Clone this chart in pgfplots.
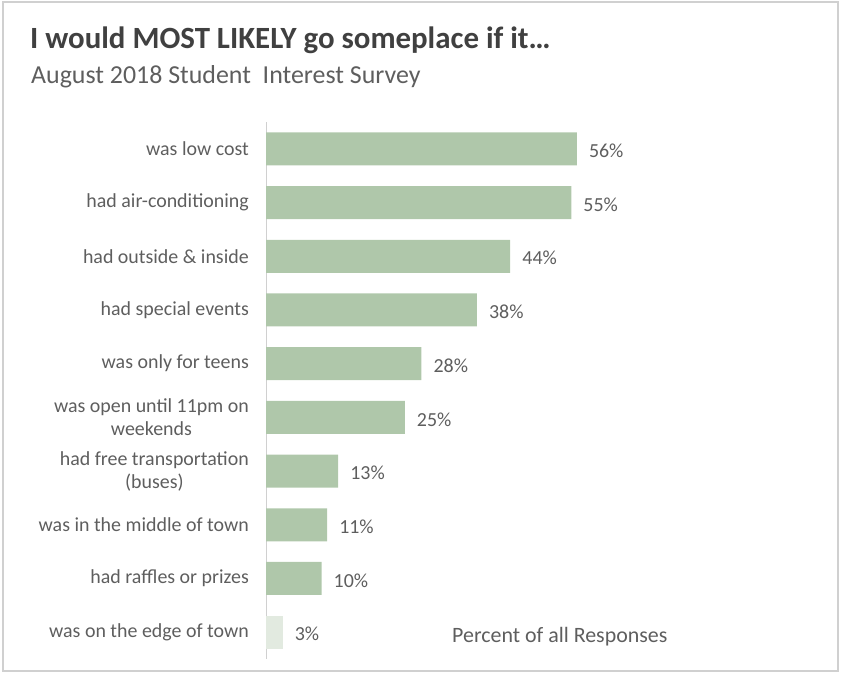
\documentclass[border=0pt]{standalone}
\usepackage{pgfplots}
\pgfplotsset{compat=1.18}
\usepackage{fontspec}
\setmainfont{Carlito}
\definecolor{barg}{HTML}{AFC7AA}
\definecolor{barl}{HTML}{E2EAE0}
\definecolor{txt}{HTML}{5E5E5E}
\definecolor{ttl}{HTML}{404040}
\definecolor{frm}{HTML}{D0D0D0}
\begin{document}
\begin{tikzpicture}
\path[use as bounding box] (0bp,0bp) rectangle (842bp,-673bp);
\draw[color=frm, line width=1.2bp] (3bp,-2bp) rectangle (838bp,-671bp);
\node[anchor=base west, inner sep=0pt, text=ttl, font=\fontsize{31}{36}\selectfont\bfseries] at (30bp,-48bp) {I would MOST LIKELY go someplace if it\ldots};
\node[anchor=base west, inner sep=0pt, text=txt, font=\fontsize{26}{30}\selectfont] at (31bp,-83bp) {August 2018 Student\ \ Interest Survey};
\node[anchor=base west, inner sep=0pt, text=txt, font=\fontsize{22}{26}\selectfont] at (452bp,-642bp) {Percent of all Responses};
\begin{axis}[
  at={(266bp,-122bp)}, anchor=north west,
  scale only axis, width=555bp, height=537bp,
  xmin=0, xmax=100, ymin=-0.5, ymax=9.5, y dir=reverse,
  xbar, bar width=33bp,
  axis x line=none, axis y line*=left,
  y axis line style={draw=frm, line width=1bp, -},
  xtick=\empty,
  ytick={0,...,9},
  yticklabels={was low cost, had air-conditioning, had outside \& inside, had special events, was only for teens, {was open until 11pm on\\weekends}, {had free transportation\\(buses)}, was in the middle of town, had raffles or prizes, was on the edge of town},
  major tick length=0pt,
  yticklabel style={font=\fontsize{20}{23}\selectfont, text=txt, align=center, inner sep=0pt, xshift=-17bp},
  /pgf/number format/assume math mode=true,
  nodes near coords={\pgfmathprintnumber{\pgfplotspointmeta}\%},
  nodes near coords style={font=\fontsize{20}{23}\selectfont, text=txt, inner sep=0pt, anchor=west, xshift=12bp, yshift=-2bp},
  point meta=x,
  clip=false,
]
\addplot[xbar, bar shift=0pt, fill=barg, draw=none] coordinates {
  (56,0) (55,1) (44,2) (38,3) (28,4) (25,5) (13,6) (11,7) (10,8)
};
\addplot[xbar, bar shift=0pt, fill=barl, draw=none] coordinates {
  (3,9)
};
\end{axis}
\end{tikzpicture}
\end{document}
